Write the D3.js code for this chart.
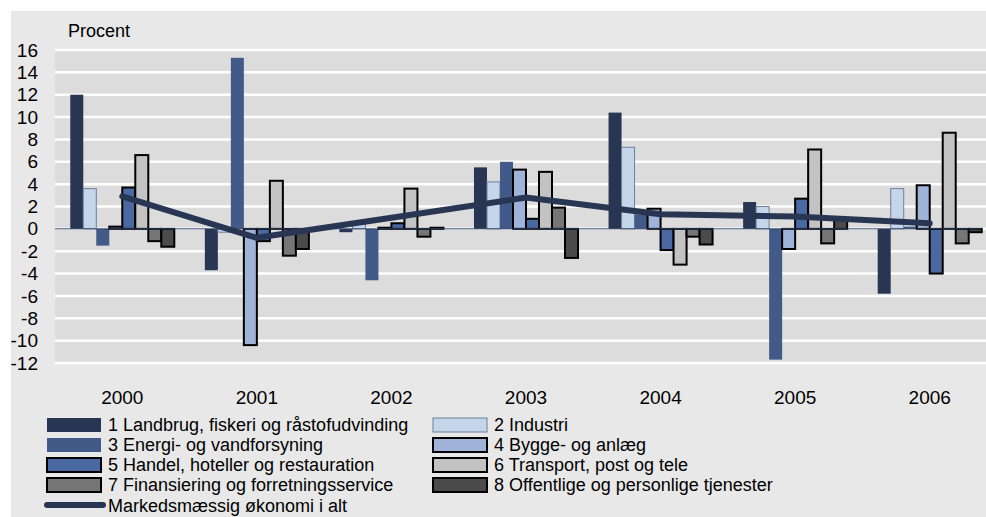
<!DOCTYPE html>
<html>
<head>
<meta charset="utf-8">
<script src="https://cdn.jsdelivr.net/npm/d3@7"></script>
<style>
  body { margin: 0; background: #fff; }
  text { font-family: "Liberation Sans", Arial, sans-serif; fill: #000; }
</style>
</head>
<body>
<div id="chart"></div>
<script>
// Chart data
var years = ["2000", "2001", "2002", "2003", "2004", "2005", "2006"];
var seriesNames = [
    "1 Landbrug, fiskeri og råstofudvinding",
    "2 Industri",
    "3 Energi- og vandforsyning",
    "4 Bygge- og anlæg",
    "5 Handel, hoteller og restauration",
    "6 Transport, post og tele",
    "7 Finansiering og forretningsservice",
    "8 Offentlige og personlige tjenester"
];
var landbrug   = [12.0, -3.7, -0.3, 5.5, 10.4, 2.4, -5.8];
var industri   = [3.6, -0.3, 0.4, 4.2, 7.3, 2.0, 3.6];
var energi     = [-1.5, 15.3, -4.6, 6.0, 1.3, -11.7, 0.2];
var bygge      = [0.2, -10.4, 0.1, 5.3, 1.8, -1.8, 3.9];
var handel     = [3.7, -1.1, 0.5, 0.9, -1.9, 2.7, -4.0];
var transport  = [6.6, 4.3, 3.6, 5.1, -3.2, 7.1, 8.6];
var finans     = [-1.1, -2.4, -0.7, 1.9, -0.7, -1.3, -1.3];
var offentlige = [-1.6, -1.8, 0.1, -2.6, -1.4, 0.8, -0.3];
var totalName = "Markedsmæssig økonomi i alt";
var totalValues = [2.9, -0.8, 1.0, 2.8, 1.3, 1.1, 0.5];
var yTicks = [-12, -10, -8, -6, -4, -2, 0, 2, 4, 6, 8, 10, 12, 14, 16];

var seriesValues = [landbrug, industri, energi, bygge, handel, transport, finans, offentlige];

// Bar styles per series
var barFill   = ["#283654", "#c6d6ea", "#415a88", "#9fb2d8", "#4a69a3", "#c3c3c3", "#767676", "#4b4b4b"];
var barStroke = ["none", "#6f7f9b", "none", "#000", "#000", "#000", "#000", "#000"];
var barStrokeW = [0, 1, 0, 2, 2, 2, 2, 2];

var svgWidth = 986;
var svgHeight = 517;

var svg = d3.select("#chart")
    .append("svg")
    .attr("width", svgWidth)
    .attr("height", svgHeight);

// Backgrounds
svg.append("rect")
    .attr("x", 11).attr("y", 11)
    .attr("width", svgWidth - 11).attr("height", svgHeight - 11)
    .attr("fill", "#e8e8e8");

var plotLeft = 55, plotTop = 50, plotBottom = 363;

svg.append("rect")
    .attr("x", plotLeft).attr("y", plotTop)
    .attr("width", svgWidth - plotLeft).attr("height", plotBottom - plotTop)
    .attr("fill", "#dcdcdc");

// Scales (plot runs past the right edge of the picture)
var x = d3.scaleBand()
    .domain(years)
    .range([plotLeft, 997])
    .paddingInner(0.227)
    .paddingOuter(0.1135);

var xInner = d3.scaleBand()
    .domain(d3.range(seriesNames.length))
    .range([0, x.bandwidth()]);

var y = d3.scaleLinear()
    .domain([-12, 16])
    .range([plotBottom, plotTop]);

// Gridlines
svg.append("g")
    .selectAll("line")
    .data(yTicks)
    .enter()
    .append("line")
    .attr("x1", plotLeft)
    .attr("x2", svgWidth)
    .attr("y1", d => y(d))
    .attr("y2", d => y(d))
    .attr("stroke", "#fff")
    .attr("stroke-width", 2.5);

// Y axis
var leftAxis = d3.axisLeft(y)
    .tickValues(yTicks)
    .tickSize(0)
    .tickPadding(0)
    .tickFormat(d => String(d));

svg.append("g")
    .attr("transform", "translate(38,0)")
    .call(leftAxis)
    .call(g => g.select(".domain").remove())
    .selectAll("text")
    .style("font-size", "19px")
    .attr("fill", "#000");

// X axis
var bottomAxis = d3.axisBottom(x)
    .tickSize(0)
    .tickPadding(28);

svg.append("g")
    .attr("transform", `translate(0, ${plotBottom})`)
    .call(bottomAxis)
    .call(g => g.select(".domain").remove())
    .selectAll("text")
    .style("font-size", "19px")
    .attr("fill", "#000");

svg.append("text")
    .attr("x", 68)
    .attr("y", 37)
    .style("font-size", "18px")
    .text("Procent");

// Bars
var groups = svg.append("g")
    .selectAll("g")
    .data(years)
    .enter()
    .append("g")
    .attr("transform", d => `translate(${x(d)},0)`);

groups.selectAll("rect")
    .data((yr, i) => seriesValues.map((vals, s) => ({ s: s, v: vals[i] })))
    .enter()
    .append("rect")
    .attr("x", d => xInner(d.s))
    .attr("width", xInner.bandwidth())
    .attr("y", d => y(Math.max(0, d.v)))
    .attr("height", d => Math.abs(y(d.v) - y(0)))
    .attr("fill", d => barFill[d.s])
    .attr("stroke", d => barStroke[d.s])
    .attr("stroke-width", d => barStrokeW[d.s]);

// Zero line
svg.append("line")
    .attr("x1", plotLeft)
    .attr("x2", 981)
    .attr("y1", y(0))
    .attr("y2", y(0))
    .attr("stroke", "#33446a")
    .attr("stroke-width", 1);

// Total line
var line = d3.line()
    .x((d, i) => x(years[i]) + x.bandwidth() / 2)
    .y(d => y(d));

svg.append("path")
    .datum(totalValues)
    .attr("d", line)
    .attr("fill", "none")
    .attr("stroke", "#283654")
    .attr("stroke-width", 6)
    .attr("stroke-linecap", "round")
    .attr("stroke-linejoin", "round");

// Legend
var legend = svg.append("g");
var colX = [47, 433];
var rowY = [418, 438, 458, 478];

seriesNames.forEach(function (name, s) {
    var cx = colX[s % 2];
    var ry = rowY[Math.floor(s / 2)];
    legend.append("rect")
        .attr("x", cx)
        .attr("y", ry)
        .attr("width", 54)
        .attr("height", 14)
        .attr("fill", barFill[s])
        .attr("stroke", barStroke[s])
        .attr("stroke-width", barStrokeW[s]);
    legend.append("text")
        .attr("x", cx + 61)
        .attr("y", ry + 7)
        .attr("dy", "0.36em")
        .style("font-size", "18px")
        .text(name);
});

legend.append("line")
    .attr("x1", 47).attr("x2", 103)
    .attr("y1", 505).attr("y2", 505)
    .attr("stroke", "#283654")
    .attr("stroke-width", 6)
    .attr("stroke-linecap", "round");

legend.append("text")
    .attr("x", 108)
    .attr("y", 506)
    .attr("dy", "0.36em")
    .style("font-size", "18px")
    .text(totalName);
</script>
</body>
</html>
